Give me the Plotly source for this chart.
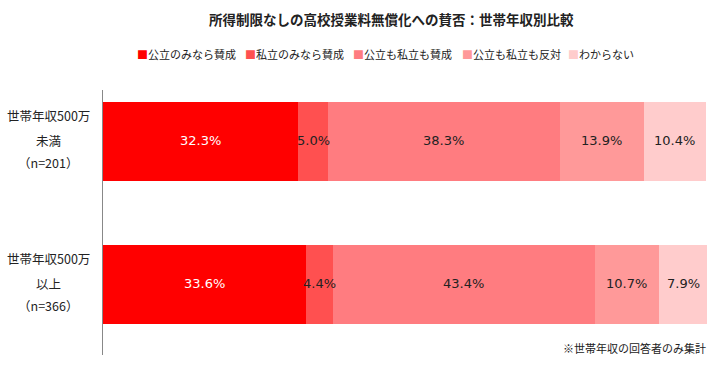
import plotly.graph_objects as go
import numpy as np

title = "所得制限なしの高校授業料無償化への賛否：世帯年収別比較"
categories = ["公立のみなら賛成", "私立のみなら賛成", "公立も私立も賛成", "公立も私立も反対", "わからない"]
colors = ["#FF0000", "#FF5050", "#FF7C80", "#FF9999", "#FFCCCC"]
label_colors = ["#FFFFFF", "#222222", "#222222", "#222222", "#222222"]
group_labels = [["世帯年収500万", "未満", "（n=201）"],
                ["世帯年収500万", "以上", "（n=366）"]]
values = [
    [32.3, 33.6],   # 公立のみなら賛成
    [5.0, 4.4],     # 私立のみなら賛成
    [38.3, 43.4],   # 公立も私立も賛成
    [13.9, 10.7],   # 公立も私立も反対
    [10.4, 7.9],    # わからない
]
footnote = "※世帯年収の回答者のみ集計"

W, H = 713, 369
L, R, T, B = 103, 6, 90, 14
pw = W - L - R

ypos = [0, 1]
fig = go.Figure()
for i, cat in enumerate(categories):
    fig.add_trace(go.Bar(
        x=values[i], y=ypos, orientation="h", name=cat,
        marker=dict(color=colors[i], line=dict(width=0)),
        width=0.552, showlegend=False, hoverinfo="x+name",
    ))

annotations = []
# data labels at segment centers
cum = np.zeros(len(ypos))
for i, cat in enumerate(categories):
    v = np.array(values[i])
    mids = cum + v / 2
    for j, y in enumerate(ypos):
        annotations.append(dict(
            x=mids[j], y=y, xref="x", yref="y", text=f"{v[j]:.1f}%",
            showarrow=False, font=dict(family="DejaVu Sans", size=13, color=label_colors[i]),
            xanchor="center", yanchor="middle", yshift=1,
        ))
    cum = cum + v

# category labels (multi-line, centered)
shifts = [26, 1, -21]
for j, lines in enumerate(group_labels):
    for k, line in enumerate(lines):
        annotations.append(dict(
            x=(48 - L) / pw, y=ypos[j], xref="paper", yref="y", text=line,
            showarrow=False, font=dict(family="Noto Sans CJK JP", size=12.5, color="#222222"),
            xanchor="center", yanchor="middle", yshift=shifts[k],
        ))

# legend built from annotations
leg_x = [137, 245, 353, 462, 568]
for i, cat in enumerate(categories):
    annotations.append(dict(
        x=(leg_x[i] - L) / pw, y=(H - B - 54) / (H - T - B), xref="paper", yref="paper",
        text=f"<span style='color:{colors[i]};font-size:11px'>■</span>{cat}",
        showarrow=False, font=dict(family="Noto Sans CJK JP", size=11, color="#222222"),
        xanchor="left", yanchor="middle", xshift=-2,
    ))

# title
annotations.append(dict(
    x=(391 - L) / pw, y=(H - B - 19) / (H - T - B), xref="paper", yref="paper",
    text=f"<b>{title}</b>", showarrow=False,
    font=dict(family="Noto Sans CJK JP", size=13.5, color="#222222"),
    xanchor="center", yanchor="middle",
))
# footnote
annotations.append(dict(
    x=(708 - L) / pw, y=(H - B - 348) / (H - T - B), xref="paper", yref="paper",
    text=footnote, showarrow=False,
    font=dict(family="Noto Sans CJK JP", size=11, color="#222222"),
    xanchor="right", yanchor="middle",
))

fig.update_layout(
    barmode="stack",
    width=W, height=H,
    margin=dict(l=L, r=R, t=T, b=B),
    paper_bgcolor="white", plot_bgcolor="white",
    annotations=annotations,
    xaxis=dict(range=[0, 100], visible=False, fixedrange=True),
    yaxis=dict(range=[1.493, -0.36], showticklabels=False, showgrid=False, zeroline=False,
               showline=True, linecolor="#888888", linewidth=1, ticks="", fixedrange=True),
    bargap=0,
)

fig.write_html("out.html", config={"displayModeBar": False})

# remove the default page margin so the figure sits at the window's top-left
with open("out.html", encoding="utf-8") as f:
    html = f.read()
html = html.replace("<head>", "<head><style>body{margin:0;overflow:hidden;}</style>", 1)
with open("out.html", "w", encoding="utf-8") as f:
    f.write(html)
